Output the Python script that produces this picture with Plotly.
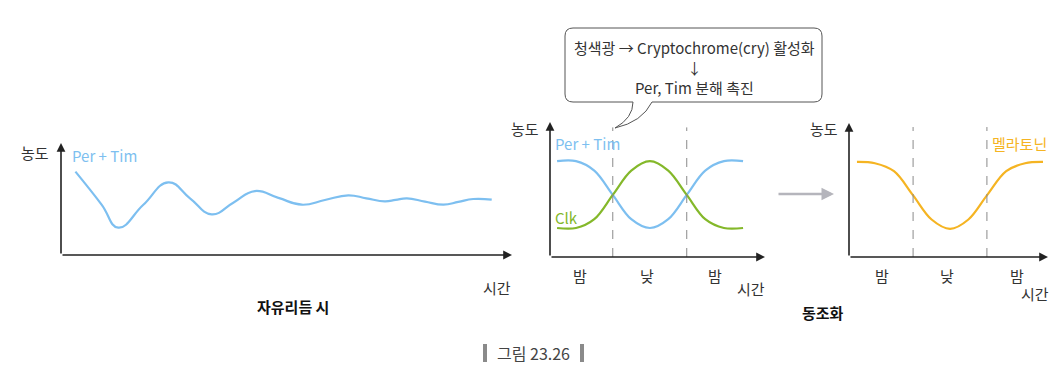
import plotly.graph_objects as go

W, H = 1059, 371
FONT = "Noto Sans CJK KR"

# ---------------- data ----------------
# Panel 1: free-running rhythm (Per + Tim), time units 0..100, concentration 0..100
free_t = [3.2, 9.0, 12.7, 18.2, 23.8, 28.6, 33.4, 38.2, 43.0, 48.2, 53.4, 58.5,
          63.7, 67.7, 71.8, 74.2, 76.7, 80.7, 84.8, 88.1, 91.4, 95.5]
free_pertim = [74.4, 45.0, 24.4, 44.6, 64.9, 50.6, 36.3, 46.7, 57.1, 51.0, 44.9, 49.1,
               53.3, 50.6, 47.9, 49.2, 50.6, 47.7, 44.9, 47.4, 50.0, 49.4]

# Panel 2: entrained Per+Tim and Clk
ent_t = [3.3, 12.1, 20.6, 29.2, 37.8, 46.5, 55.0, 63.6, 72.2, 80.9, 89.8]
ent_pertim = [71, 71, 64, 46, 28, 21.5, 28, 46, 64, 71, 71]
ent_clk = [21.5, 21.5, 28, 46, 64, 71, 64, 46, 28, 21.5, 21.5]
ent_dash = [29.2, 63.6]

# Panel 3: melatonin
mel_t = [4.0, 13.0, 22.6, 32.2, 41.5, 50.8, 60.0, 69.3, 79.0, 88.5, 97.5]
mel_val = [71, 70, 64, 46, 28, 21, 28, 46, 64, 70, 71]
mel_dash = [32.2, 69.3]

phase_labels = ["밤", "낮", "밤"]

BLUE = "#7dbff0"
GREEN = "#84b82a"
ORANGE = "#f5b422"
AX = "#222222"
TXT = "#333333"

fig = go.Figure()

panels = {
    1: dict(x0=61, x1=512, ytop=143, ybot=255),
    2: dict(x0=550, x1=765, ytop=122, ybot=257),
    3: dict(x0=849, x1=1048, ytop=123, ybot=257),
}

layout_axes = {}
for i, p in panels.items():
    xs = "" if i == 1 else str(i)
    layout_axes[f"xaxis{xs}"] = dict(domain=[p["x0"] / W, p["x1"] / W], range=[0, 100],
                                     visible=False, fixedrange=True, anchor=f"y{xs}")
    layout_axes[f"yaxis{xs}"] = dict(domain=[1 - p["ybot"] / H, 1 - p["ytop"] / H], range=[0, 100],
                                     visible=False, fixedrange=True, anchor=f"x{xs}")
# overlay pixel axis for decorations
layout_axes["xaxis4"] = dict(domain=[0, 1], range=[0, W], visible=False, fixedrange=True, anchor="y4")
layout_axes["yaxis4"] = dict(domain=[0, 1], range=[H, 0], visible=False, fixedrange=True, anchor="x4")

LW = 2.2
fig.add_trace(go.Scatter(x=free_t, y=free_pertim, mode="lines",
                         line=dict(color=BLUE, width=LW, shape="spline", smoothing=1.3),
                         xaxis="x", yaxis="y", hoverinfo="skip"))
fig.add_trace(go.Scatter(x=ent_t, y=ent_pertim, mode="lines",
                         line=dict(color=BLUE, width=LW, shape="spline", smoothing=1.0),
                         xaxis="x2", yaxis="y2", hoverinfo="skip"))
fig.add_trace(go.Scatter(x=ent_t, y=ent_clk, mode="lines",
                         line=dict(color=GREEN, width=LW, shape="spline", smoothing=1.0),
                         xaxis="x2", yaxis="y2", hoverinfo="skip"))
fig.add_trace(go.Scatter(x=mel_t, y=mel_val, mode="lines",
                         line=dict(color=ORANGE, width=LW, shape="spline", smoothing=1.0),
                         xaxis="x3", yaxis="y3", hoverinfo="skip"))
fig.add_trace(go.Scatter(x=[0], y=[0], mode="markers", marker=dict(opacity=0),
                         xaxis="x4", yaxis="y4", hoverinfo="skip"))

shapes = []
annotations = []

# dashed lines
for xv in ent_dash:
    shapes.append(dict(type="line", xref="x2", yref="y2", x0=xv, x1=xv, y0=0, y1=96,
                       line=dict(color="#8a8a8a", width=1, dash="dash")))
for xv in mel_dash:
    shapes.append(dict(type="line", xref="x3", yref="y3", x0=xv, x1=xv, y0=0, y1=97,
                       line=dict(color="#8a8a8a", width=1, dash="dash")))

# axis arrows
for i in panels:
    xs = "" if i == 1 else str(i)
    for (x, y) in [(0, 100), (100, 0)]:
        annotations.append(dict(xref=f"x{xs}", yref=f"y{xs}", axref=f"x{xs}", ayref=f"y{xs}",
                                x=x, y=y, ax=0, ay=0, showarrow=True, arrowhead=2, arrowsize=1.1,
                                arrowwidth=1.6, arrowcolor=AX, text=""))

# gray transition arrow
annotations.append(dict(xref="x4", yref="y4", axref="x4", ayref="y4", x=834, y=194, ax=777, ay=194,
                        showarrow=True, arrowhead=2, arrowsize=1.0, arrowwidth=2.5,
                        arrowcolor="#b5b5bc", text=""))

# callout box
path = ("M 573,28 L 814,28 Q 822,28 822,36 L 822,94 Q 822,102 814,102 L 652,102 "
        "Q 642,122 615,128 Q 633,118 633,102 L 573,102 Q 565,102 565,94 L 565,36 Q 565,28 573,28 Z")
shapes.append(dict(type="path", xref="x4", yref="y4", path=path, fillcolor="white",
                   line=dict(color="#555555", width=1)))

# caption bars
for bx in [483, 580]:
    shapes.append(dict(type="rect", xref="x4", yref="y4", x0=bx, x1=bx + 4, y0=344, y1=362,
                       fillcolor="#8a8a8a", line=dict(width=0)))


def txt(x, y, s, size=15, color=TXT, anchor="left", bold=False):
    if bold:
        s = f"<b>{s}</b>"
    annotations.append(dict(xref="x4", yref="y4", x=x, y=y, text=s, showarrow=False,
                            xanchor=anchor, yanchor="middle",
                            font=dict(family=FONT, size=size, color=color)))


# panel 1 labels
txt(19, 152, "농도")
txt(70, 155, "Per + Tim", color=BLUE)
txt(513, 287, "시간", anchor="right")
txt(293, 306, "자유리듬 시", size=15, color="#111111", anchor="center", bold=True)

# panel 2 labels
txt(509, 128, "농도")
txt(553, 143, "Per + Tim", color=BLUE)
txt(553, 217, "Clk", color=GREEN)
for xpx, lab in zip([580, 647, 715], phase_labels):
    txt(xpx, 275, lab, anchor="center")
txt(767, 288, "시간", anchor="right")

# callout text
txt(694, 47, "청색광 → Cryptochrome(cry) 활성화", size=15, anchor="center")
txt(694, 67, "↓", size=15, anchor="center")
txt(694, 87, "Per, Tim 분해 촉진", size=15, anchor="center")

# panel 3 labels
txt(808, 128, "농도")
txt(1049, 143, "멜라토닌", color=ORANGE, anchor="right")
for xpx, lab in zip([882, 947, 1017], phase_labels):
    txt(xpx, 275, lab, anchor="center")
txt(1051, 293, "시간", anchor="right")
txt(823, 312, "동조화", size=15, color="#111111", anchor="center", bold=True)

# caption
txt(533, 353, "그림 23.26", size=16, color="#444444", anchor="center")

fig.update_layout(
    width=W, height=H,
    margin=dict(l=0, r=0, t=0, b=0),
    paper_bgcolor="white", plot_bgcolor="rgba(0,0,0,0)",
    showlegend=False,
    shapes=shapes, annotations=annotations,
    **layout_axes,
)

fig.write_html("out.html", config={"displayModeBar": False},
               post_script="document.body.style.margin='0';document.body.style.overflow='hidden';")
